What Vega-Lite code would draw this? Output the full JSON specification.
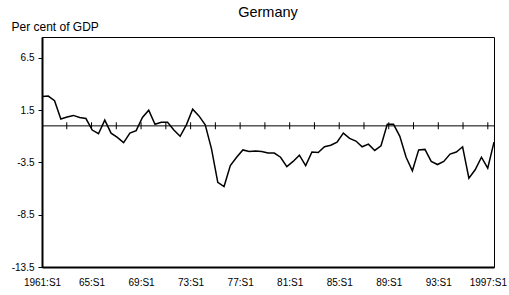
{
  "$schema": "https://vega.github.io/schema/vega-lite/v6.json",
  "width": 452,
  "height": 230,
  "autosize": {"type": "none"},
  "padding": {"left": 42, "top": 37, "right": 15, "bottom": 28},
  "background": "white",
  "title": {"text": "Germany", "fontSize": 14.5, "fontWeight": "normal", "font": "Liberation Sans", "color": "black", "anchor": "middle", "frame": "group", "baseline": "alphabetic", "offset": -11.5},
  "config": {
    "font": "Liberation Sans",
    "view": {"stroke": "black", "strokeWidth": 1}
  },
  "datasets": {
    "series": [
      {"p": "1961:S1", "i": 0, "v": 2.8},
      {"p": "1961:S2", "i": 1, "v": 2.85},
      {"p": "1962:S1", "i": 2, "v": 2.4},
      {"p": "1962:S2", "i": 3, "v": 0.65},
      {"p": "1963:S1", "i": 4, "v": 0.85},
      {"p": "1963:S2", "i": 5, "v": 1.0},
      {"p": "1964:S1", "i": 6, "v": 0.8},
      {"p": "1964:S2", "i": 7, "v": 0.7},
      {"p": "1965:S1", "i": 8, "v": -0.4},
      {"p": "1965:S2", "i": 9, "v": -0.75},
      {"p": "1966:S1", "i": 10, "v": 0.55},
      {"p": "1966:S2", "i": 11, "v": -0.7},
      {"p": "1967:S1", "i": 12, "v": -1.1},
      {"p": "1967:S2", "i": 13, "v": -1.6},
      {"p": "1968:S1", "i": 14, "v": -0.7},
      {"p": "1968:S2", "i": 15, "v": -0.45},
      {"p": "1969:S1", "i": 16, "v": 0.8},
      {"p": "1969:S2", "i": 17, "v": 1.5},
      {"p": "1970:S1", "i": 18, "v": 0.15},
      {"p": "1970:S2", "i": 19, "v": 0.35},
      {"p": "1971:S1", "i": 20, "v": 0.35},
      {"p": "1971:S2", "i": 21, "v": -0.4},
      {"p": "1972:S1", "i": 22, "v": -1.0},
      {"p": "1972:S2", "i": 23, "v": 0.1},
      {"p": "1973:S1", "i": 24, "v": 1.6},
      {"p": "1973:S2", "i": 25, "v": 0.95},
      {"p": "1974:S1", "i": 26, "v": 0.1},
      {"p": "1974:S2", "i": 27, "v": -2.2},
      {"p": "1975:S1", "i": 28, "v": -5.4},
      {"p": "1975:S2", "i": 29, "v": -5.8},
      {"p": "1976:S1", "i": 30, "v": -3.8},
      {"p": "1976:S2", "i": 31, "v": -3.0},
      {"p": "1977:S1", "i": 32, "v": -2.3},
      {"p": "1977:S2", "i": 33, "v": -2.45},
      {"p": "1978:S1", "i": 34, "v": -2.4},
      {"p": "1978:S2", "i": 35, "v": -2.45},
      {"p": "1979:S1", "i": 36, "v": -2.6},
      {"p": "1979:S2", "i": 37, "v": -2.6},
      {"p": "1980:S1", "i": 38, "v": -3.0},
      {"p": "1980:S2", "i": 39, "v": -3.9},
      {"p": "1981:S1", "i": 40, "v": -3.4},
      {"p": "1981:S2", "i": 41, "v": -2.8},
      {"p": "1982:S1", "i": 42, "v": -3.8},
      {"p": "1982:S2", "i": 43, "v": -2.5},
      {"p": "1983:S1", "i": 44, "v": -2.55},
      {"p": "1983:S2", "i": 45, "v": -2.0},
      {"p": "1984:S1", "i": 46, "v": -1.85},
      {"p": "1984:S2", "i": 47, "v": -1.55},
      {"p": "1985:S1", "i": 48, "v": -0.7},
      {"p": "1985:S2", "i": 49, "v": -1.2},
      {"p": "1986:S1", "i": 50, "v": -1.45},
      {"p": "1986:S2", "i": 51, "v": -2.0},
      {"p": "1987:S1", "i": 52, "v": -1.75},
      {"p": "1987:S2", "i": 53, "v": -2.35},
      {"p": "1988:S1", "i": 54, "v": -1.9},
      {"p": "1988:S2", "i": 55, "v": 0.15},
      {"p": "1989:S1", "i": 56, "v": 0.15},
      {"p": "1989:S2", "i": 57, "v": -1.0},
      {"p": "1990:S1", "i": 58, "v": -3.0},
      {"p": "1990:S2", "i": 59, "v": -4.3},
      {"p": "1991:S1", "i": 60, "v": -2.3},
      {"p": "1991:S2", "i": 61, "v": -2.25},
      {"p": "1992:S1", "i": 62, "v": -3.4},
      {"p": "1992:S2", "i": 63, "v": -3.7},
      {"p": "1993:S1", "i": 64, "v": -3.4},
      {"p": "1993:S2", "i": 65, "v": -2.7},
      {"p": "1994:S1", "i": 66, "v": -2.5},
      {"p": "1994:S2", "i": 67, "v": -2.0},
      {"p": "1995:S1", "i": 68, "v": -5.0},
      {"p": "1995:S2", "i": 69, "v": -4.2},
      {"p": "1996:S1", "i": 70, "v": -3.0},
      {"p": "1996:S2", "i": 71, "v": -4.05},
      {"p": "1997:S1", "i": 72, "v": -1.55}
    ],
    "ticks": [
      {"k": 4}, {"k": 8}, {"k": 12}, {"k": 16}, {"k": 20}, {"k": 24},
      {"k": 28}, {"k": 32}, {"k": 36}, {"k": 40}, {"k": 44}, {"k": 48},
      {"k": 52}, {"k": 56}, {"k": 60}, {"k": 64}, {"k": 68}, {"k": 72}
    ]
  },
  "layer": [
    {
      "data": {"values": [{"z": 0}]},
      "mark": {"type": "rule", "color": "black", "strokeWidth": 1},
      "encoding": {
        "y": {"field": "z", "type": "quantitative"}
      }
    },
    {
      "data": {"name": "ticks"},
      "mark": {"type": "tick", "orient": "vertical", "size": 7, "thickness": 1, "color": "black", "opacity": 1},
      "encoding": {
        "x": {
          "field": "k", "type": "quantitative",
          "scale": {"domain": [0, 73], "nice": false, "zero": false},
          "axis": {
            "orient": "bottom",
            "values": [0, 8, 16, 24, 32, 40, 48, 56, 64, 72],
            "labelExpr": "datum.value == 0 ? '1961:S1' : (datum.value == 72 ? '1997:S1' : (61 + datum.value / 2) + ':S1')",
            "title": null,
            "grid": false,
            "ticks": false,
            "tickSize": 0,
            "labelPadding": 10,
            "labelFontSize": 10,
            "labelColor": "black",
            "labelFont": "Liberation Sans",
            "labelOverlap": false,
            "labelFlush": false,
            "domain": true,
            "domainColor": "black",
            "domainWidth": 2
          }
        },
        "y": {"datum": 0, "type": "quantitative"}
      }
    },
    {
      "data": {"name": "series"},
      "mark": {"type": "line", "color": "black", "strokeWidth": 1.5, "strokeJoin": "miter"},
      "encoding": {
        "x": {
          "field": "i", "type": "quantitative",
          "scale": {"domain": [0, 72], "nice": false, "zero": false},
          "axis": null
        },
        "y": {
          "field": "v", "type": "quantitative",
          "scale": {"domain": [-13.5, 8.5], "nice": false, "zero": false},
          "axis": {
            "values": [-13.5, -8.5, -3.5, 1.5, 6.5],
            "labelExpr": "'' + datum.value",
            "grid": false,
            "tickSize": 4,
            "tickColor": "black",
            "tickWidth": 1,
            "labelPadding": 4,
            "labelFontSize": 10,
            "labelColor": "black",
            "labelFont": "Liberation Sans",
            "labelOverlap": false,
            "labelFlush": false,
            "domainColor": "black",
            "domainWidth": 2,
            "title": "Per cent of GDP",
            "titleAngle": 0,
            "titleAlign": "left",
            "titleBaseline": "alphabetic",
            "titleX": -31,
            "titleY": -7,
            "titleFontSize": 12,
            "titleFontWeight": "normal",
            "titleColor": "black",
            "titleFont": "Liberation Sans"
          }
        }
      }
    }
  ],
  "resolve": {"scale": {"x": "independent"}}
}
